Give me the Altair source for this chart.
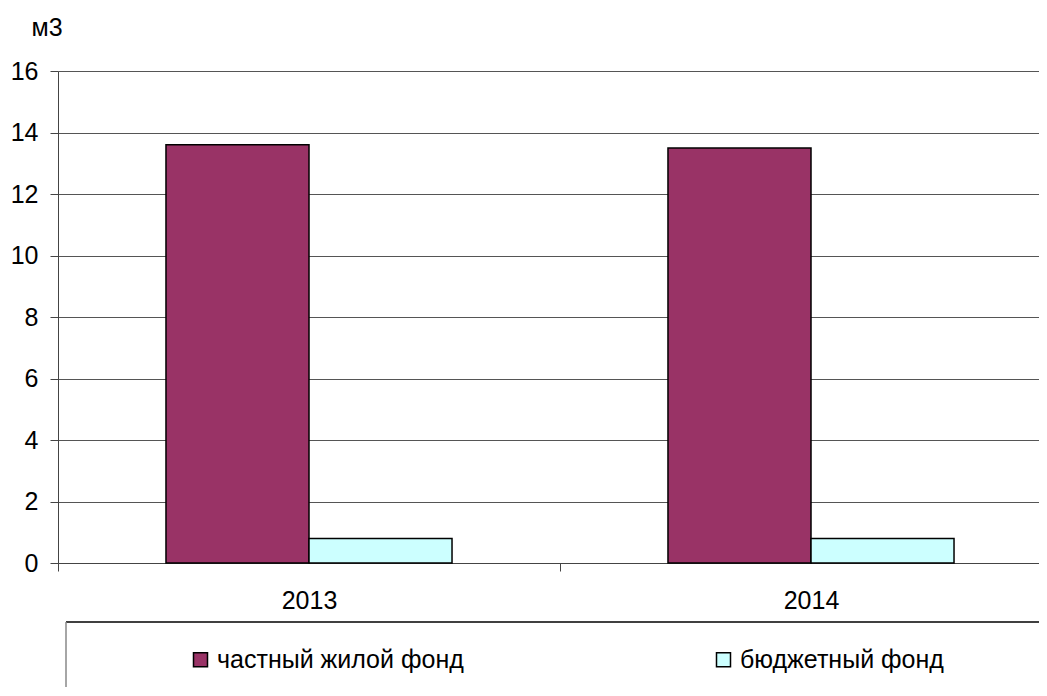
import altair as alt
import pandas as pd

years = ["2013", "2014"]
series = ["частный жилой фонд", "бюджетный фонд"]
private_vals = [13.6, 13.5]
budget_vals = [0.8, 0.8]
colors = ["#993366", "#CCFFFF"]
y_ticks = [0, 2, 4, 6, 8, 10, 12, 14, 16]

rows = []
for i, yr in enumerate(years):
    rows.append({"year": yr, "series": series[0], "value": private_vals[i]})
    rows.append({"year": yr, "series": series[1], "value": budget_vals[i]})
df = pd.DataFrame(rows)

FONT = "Liberation Sans"
FS = 25

bars = alt.Chart(df).mark_bar(stroke="black", strokeWidth=1.5).encode(
    x=alt.X("year:N", sort=years,
            scale=alt.Scale(paddingInner=0, paddingOuter=0, range=[0, 1004]),
            axis=alt.Axis(title=None, tickBand="extent", labelAngle=0,
                          labelFontSize=FS, labelFont=FONT, labelColor="black",
                          tickSize=8, tickColor="#444", domainColor="#444",
                          labelPadding=17, grid=False)),
    xOffset=alt.XOffset("series:N", sort=series,
                        scale=alt.Scale(paddingInner=0, paddingOuter=0.755)),
    y=alt.Y("value:Q", scale=alt.Scale(domain=[0, 16], nice=False),
            axis=alt.Axis(values=y_ticks, title="м3", titleAngle=0,
                          titleAlign="left", titleBaseline="middle",
                          titleX=-27, titleY=-44, titleFontSize=FS,
                          titleFontWeight="normal", titleFont=FONT,
                          titleColor="black",
                          labelFontSize=FS, labelFont=FONT, labelColor="black",
                          tickSize=8, tickColor="#444", domainColor="#444",
                          labelPadding=12, grid=True, gridColor="#555",
                          gridWidth=1)),
    color=alt.Color("series:N", sort=series,
                    scale=alt.Scale(domain=series, range=colors),
                    legend=alt.Legend(title=None, orient="none",
                                      legendX=130, legendY=576,
                                      direction="horizontal",
                                      columnPadding=247, padding=0,
                                      symbolType="square", symbolSize=196,
                                      symbolStrokeColor="black",
                                      symbolStrokeWidth=1.5,
                                      symbolOpacity=1, labelLimit=0,
                                      labelFontSize=FS, labelFont=FONT,
                                      labelColor="black", labelOffset=4)),
)

one = alt.Data(values=[{"k": 1}])
box_top = alt.Chart(one).mark_rule(color="black", strokeWidth=1.5).encode(
    x=alt.value(8), x2=alt.value(1010), y=alt.value(551))
box_left = alt.Chart(one).mark_rule(color="#888", strokeWidth=1.5).encode(
    x=alt.value(8), y=alt.value(551), y2=alt.value(700))

chart = alt.layer(box_top, box_left, bars).properties(
    width=981, height=492,
    autosize=alt.AutoSizeParams(type="none"),
    padding={"left": 50, "top": 63, "right": 0, "bottom": 124},
).configure_view(stroke=None)

chart.save("out.html", embed_options={"renderer": "svg", "actions": False})
